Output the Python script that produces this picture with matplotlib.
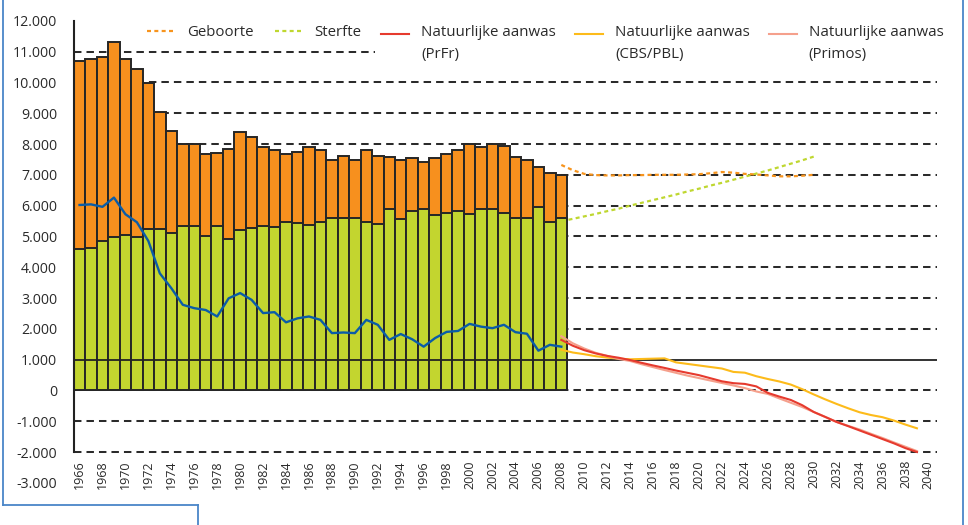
import numpy as np
import matplotlib
matplotlib.use("Agg")
import matplotlib.pyplot as plt
from matplotlib.ticker import FixedLocator, FuncFormatter
from matplotlib.legend_handler import HandlerLine2D
from matplotlib.lines import Line2D

plt.rcParams['font.family'] = ['Open Sans', 'DejaVu Sans']

# ---- observed series 1966-2008 ----
years_hist = list(range(1966, 2009))
births = [10700, 10770, 10820, 11300, 10760, 10440, 9980, 9030, 8420, 8000,
          8000, 7670, 7720, 7850, 8400, 8220, 7900, 7810, 7670, 7730,
          7900, 7790, 7490, 7620, 7490, 7810, 7620, 7570, 7470, 7540,
          7410, 7540, 7680, 7820, 7990, 7900, 7990, 7920, 7590, 7480,
          7250, 7050, 7000]
deaths = [4590, 4620, 4850, 4970, 5040, 4980, 5240, 5240, 5120, 5330,
          5330, 5000, 5330, 4910, 5200, 5280, 5330, 5290, 5460, 5420,
          5380, 5470, 5590, 5590, 5590, 5480, 5400, 5880, 5560, 5830,
          5890, 5700, 5770, 5840, 5730, 5880, 5880, 5750, 5590, 5590,
          5970, 5480, 5590]
growth = [6020, 6040, 5960, 6260, 5720, 5460, 4850, 3800, 3320, 2780,
          2670, 2610, 2400, 2990, 3160, 2940, 2510, 2540, 2210, 2340,
          2400, 2290, 1860, 1880, 1860, 2290, 2130, 1640, 1830, 1660,
          1420, 1700, 1900, 1930, 2160, 2070, 2020, 2130, 1890, 1840,
          1290, 1480, 1420]

# ---- projected births / deaths 2008-2030 ----
years_bd = list(range(2008, 2031))
births_proj = [7320, 7150, 7030, 6990, 6980, 6980, 6990, 6990, 7000, 7000,
               7000, 7010, 7020, 7050, 7090, 7070, 7030, 7010, 6980, 6950,
               6950, 6970, 7000]
deaths_proj = [5490, 5570, 5650, 5730, 5820, 5900, 6000, 6090, 6180, 6270,
               6360, 6460, 6550, 6650, 6740, 6840, 6940, 7040, 7140, 7250,
               7360, 7470, 7590]

# ---- projected natural growth 2008-2039 ----
years_ng = list(range(2008, 2040))
ng_prfr = [1640, 1450, 1305, 1200, 1120, 1060, 985, 895, 810, 730,
           645, 570, 495, 395, 295, 235, 210, 130, -80, -200,
           -310, -480, -700, -860, -1025, -1160, -1300, -1440, -1580, -1720,
           -1875, -2000]
ng_cbs = [1320, 1230, 1175, 1110, 1065, 1030, 1010, 1020, 1030, 1040,
          910, 860, 810, 760, 710, 600, 575, 460, 370, 290,
          190, 40, -130, -290, -440, -580, -710, -800, -870, -980,
          -1110, -1230]
ng_primos = [1760, 1530, 1360, 1220, 1120, 1020, 955, 850, 755, 660,
             570, 480, 400, 320, 240, 160, 75, -35, -115, -260,
             -400, -540, -700, -860, -1025, -1150, -1270, -1410, -1545, -1690,
             -1830, -1970]

y_ticks = list(range(-3000, 12001, 1000))
grid_levels = [-2000, -1000, 0] + list(range(2000, 11001, 1000))
x_ticks = list(range(1966, 2041, 2))

ORANGE = '#F7901E'
GREEN = '#C3D52F'
EDGE = '#262626'
BLUE = '#0A5CA8'
RED = '#E63A2E'
GOLD = '#FDBB1A'
SALMON = '#F5A08C'
TEXT = '#2a2a2a'
FRAME = '#4A86C8'

fig = plt.figure(figsize=(9.68, 5.25), dpi=100)
ax = fig.add_axes([73.8 / 968, 1 - 482.8 / 525, (937 - 73.8) / 968, 462 / 525])
ax.set_xlim(1965.5, 2040.75)
ax.set_ylim(-3000, 12000)

for lvl in grid_levels:
    ax.axhline(lvl, color='#2b2b2b', lw=1.45, ls=(0, (3.7, 2.5)), zorder=1)

ax.bar(years_hist, births, width=1.0, color=ORANGE, edgecolor=EDGE,
       linewidth=1.4, zorder=2)
ax.bar(years_hist, deaths, width=1.0, color=GREEN, edgecolor=EDGE,
       linewidth=1.4, zorder=2.1)
ax.axhline(1000, color='#222222', lw=1.3, zorder=2.5)

ax.plot(years_hist, growth, color=BLUE, lw=1.7, zorder=4)
ln_geb, = ax.plot(years_bd, births_proj, color='#F7941D', lw=1.6,
                  ls=(0, (1.8, 1.5)), zorder=3)
ln_ster, = ax.plot(years_bd, deaths_proj, color='#BFD730', lw=1.6,
                   ls=(0, (1.8, 1.5)), zorder=3)
ln_cbs, = ax.plot(years_ng, ng_cbs, color=GOLD, lw=1.5, zorder=3.2)
ln_primos, = ax.plot(years_ng, ng_primos, color=SALMON, lw=1.5, zorder=3.3)
ln_prfr, = ax.plot(years_ng, ng_prfr, color=RED, lw=1.5, zorder=3.4)

# axes styling
for side in ('top', 'right', 'bottom'):
    ax.spines[side].set_visible(False)
ax.spines['left'].set_bounds(-2000, 12000)
ax.spines['left'].set_color('#222222')
ax.spines['left'].set_linewidth(1.5)

ax.yaxis.set_major_locator(FixedLocator(y_ticks))
ax.yaxis.set_major_formatter(FuncFormatter(lambda v, p: f"{v:,.0f}".replace(",", ".")))
ax.xaxis.set_major_locator(FixedLocator(x_ticks))
ax.xaxis.set_major_formatter(FuncFormatter(lambda v, p: f"{int(round(v))}"))
ax.tick_params(axis='y', length=0, pad=12, labelsize=10.2, labelcolor=TEXT)
ax.tick_params(axis='x', length=0, pad=-16.4, labelsize=9, labelcolor=TEXT,
               labelrotation=90)

# legends
FS = 10.8
LS = 1.6


class RaisedLine(HandlerLine2D):
    def __init__(self, lift, **kw):
        super().__init__(**kw)
        self.lift = lift

    def create_artists(self, legend, orig_handle, xdescent, ydescent,
                       width, height, fontsize, trans):
        arts = super().create_artists(legend, orig_handle, xdescent, ydescent,
                                      width, height, fontsize, trans)
        for a in arts:
            a.set_ydata(np.asarray(a.get_ydata(), dtype=float) + self.lift)
        return arts


def fx(px):
    return px / 968


def fy(py):
    return 1 - py / 525


TOP = 25
leg1 = ax.legend([ln_geb, ln_ster], ['Geboorte', 'Sterfte'], ncol=2,
                 loc='upper left', bbox_to_anchor=(fx(147), fy(TOP)),
                 bbox_transform=fig.transFigure, frameon=False, fontsize=FS,
                 borderpad=0, borderaxespad=0, handlelength=1.87,
                 handletextpad=0.8, columnspacing=1.4, labelcolor=TEXT)
ax.add_artist(leg1)

pad2 = 0.4
pad_px = pad2 * FS * 100 / 72
lift = 0.5 * LS * 0.76 * FS
leg2 = ax.legend([ln_prfr, ln_cbs, ln_primos],
                 ['Natuurlijke aanwas\n(PrFr)', 'Natuurlijke aanwas\n(CBS/PBL)',
                  'Natuurlijke aanwas\n(Primos)'],
                 ncol=3, loc='upper left',
                 bbox_to_anchor=(fx(381 - pad_px), fy(TOP - pad_px)),
                 bbox_transform=fig.transFigure, frameon=True, fancybox=False,
                 facecolor='white', edgecolor='none', framealpha=1, fontsize=FS,
                 borderpad=pad2, borderaxespad=0, handlelength=1.87,
                 handletextpad=0.8, columnspacing=1.27, labelcolor=TEXT,
                 handler_map={Line2D: RaisedLine(lift)})
for t in leg2.get_texts():
    t.set_linespacing(LS)

# outer frame
frame_kw = dict(transform=fig.transFigure, color=FRAME, lw=1.3)
fig.add_artist(Line2D([fx(3), fx(3)], [1, fy(505)], **frame_kw))
fig.add_artist(Line2D([fx(3), fx(198)], [fy(505), fy(505)], **frame_kw))
fig.add_artist(Line2D([fx(198), fx(198)], [fy(505), 0], **frame_kw))
fig.add_artist(Line2D([fx(963), fx(963)], [1, 0], **frame_kw))

fig.savefig('out.png', dpi=100)
